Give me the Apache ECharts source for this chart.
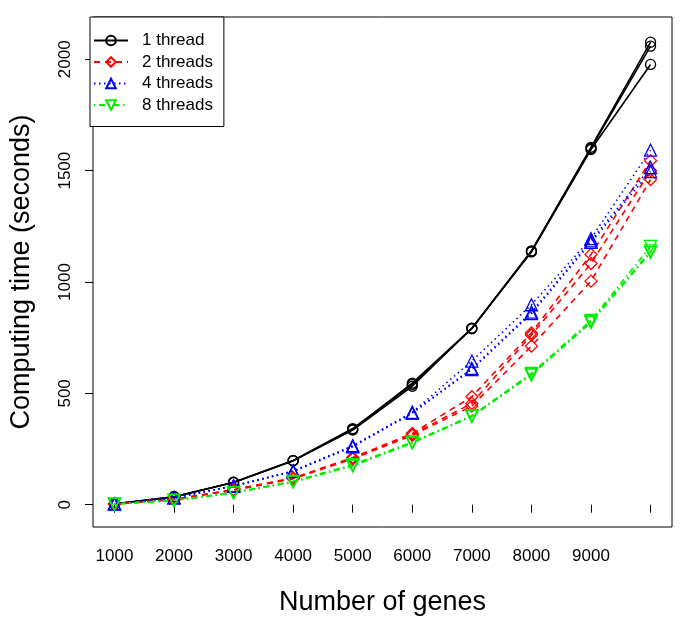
<!DOCTYPE html>
<html><head><meta charset="utf-8">
<script src="https://cdn.jsdelivr.net/npm/echarts@6/dist/echarts.min.js"></script>
<style>html,body{margin:0;padding:0;background:#fff}#c{width:685px;height:623px}</style>
</head><body><div id="c"></div>
<script>
const genes = [1000,2000,3000,4000,5000,6000,7000,8000,9000,10000];
const xTicks = [1000,2000,3000,4000,5000,6000,7000,8000,9000,10000];
const xLabels = [1000,2000,3000,4000,5000,6000,7000,8000,9000];
const yTicks = [0,500,1000,1500,2000];

const t1_run1 = [3, 36, 100, 198, 338, 546, 792, 1140, 1605, 2077];
const t1_run2 = [3, 35, 101, 199, 342, 540, 790, 1137, 1600, 2059];
const t1_run3 = [4, 36, 100, 197, 335, 532, 793, 1135, 1595, 1977];

const t2_run1 = [3, 25, 68, 120, 212, 320, 485, 771, 1124, 1545];
const t2_run2 = [3, 24, 66, 118, 208, 316, 455, 762, 1083, 1500];
const t2_run3 = [3, 24, 65, 117, 206, 312, 443, 712, 1004, 1460];

const t4_run1 = [4, 32, 85, 152, 265, 415, 645, 898, 1195, 1592];
const t4_run2 = [4, 31, 84, 150, 262, 413, 612, 865, 1185, 1514];
const t4_run3 = [4, 31, 83, 149, 260, 411, 607, 858, 1178, 1496];

const t8_run1 = [3, 20, 55, 105, 180, 282, 400, 590, 828, 1160];
const t8_run2 = [3, 19, 54, 103, 176, 279, 398, 585, 823, 1140];
const t8_run3 = [3, 19, 53, 102, 174, 277, 396, 582, 818, 1132];

const groups = [
  {name:'1 thread', runs:[t1_run1,t1_run2,t1_run3], color:'#000000', symbol:'circle', size:10, dash:'solid'},
  {name:'2 threads', runs:[t2_run1,t2_run2,t2_run3], color:'#FF0000', symbol:'diamond', size:12, dash:[6,5]},
  {name:'4 threads', runs:[t4_run1,t4_run2,t4_run3], color:'#0000FF', symbol:'triangle', size:12, dash:[1.5,3.5]},
  {name:'8 threads', runs:[t8_run1,t8_run2,t8_run3], color:'#00EE00', symbol:'path://M0,0 L2,0 L1,1.732 Z', size:12, dash:[1.5,3.5,6,3.5]}
];

const series = [];
groups.forEach(g => {
  g.runs.forEach(run => {
    series.push({
      name: g.name,
      type: 'line',
      data: genes.map((x,i)=>[x, run[i]]),
      symbol: g.symbol,
      symbolSize: g.size,
      showAllSymbol: true,
      lineStyle: {color: g.color, width: 1.6, type: g.dash},
      itemStyle: {color: 'rgba(255,255,255,0)', borderColor: g.color, borderWidth: 1.3},
      silent: true
    });
  });
});

const fmt = v => String(v);
const chart = echarts.init(document.getElementById('c'), null, {renderer:'canvas'});
chart.setOption({
  animation: false,
  backgroundColor: '#fff',
  textStyle: {fontFamily: 'Liberation Sans, Arial, sans-serif'},
  grid: {left: 90, right: 13, top: 17, bottom: 96, show: true, borderColor: '#000', borderWidth: 1, backgroundColor: 'transparent'},
  legend: {
    data: groups.map(g=>g.name),
    orient: 'vertical', left: 90, top: 17,
    backgroundColor: '#fff', borderColor: '#000', borderWidth: 1,
    padding: [15, 11, 13, 3], itemGap: 4.5, itemWidth: 34, itemHeight: 12,
    textStyle: {fontSize: 17, color: '#000', padding: [0,0,0,9], fontFamily: 'Liberation Sans, Arial, sans-serif'}
  },
  xAxis: {
    type: 'value', min: 640, max: 10360,
    name: 'Number of genes', nameLocation: 'middle', nameGap: 62,
    nameTextStyle: {fontSize: 27, color: '#000'},
    axisLine: {show: false},
    axisTick: {show: true, length: 8, inside: false, customValues: xTicks, lineStyle: {color: '#000'}},
    axisLabel: {customValues: xLabels, formatter: fmt, fontSize: 17, color: '#000', margin: 21},
    splitLine: {show: false}
  },
  yAxis: {
    type: 'value', min: -100, max: 2190,
    name: 'Computing time (seconds)', nameLocation: 'middle', nameGap: 58,
    nameTextStyle: {fontSize: 27, color: '#000'},
    axisLine: {show: false},
    axisTick: {show: true, length: 8, inside: false, customValues: yTicks, lineStyle: {color: '#000'}},
    axisLabel: {customValues: yTicks, formatter: fmt, fontSize: 17, color: '#000', rotate: 90, margin: 19},
    splitLine: {show: false}
  },
  series: series
});
</script></body></html>
